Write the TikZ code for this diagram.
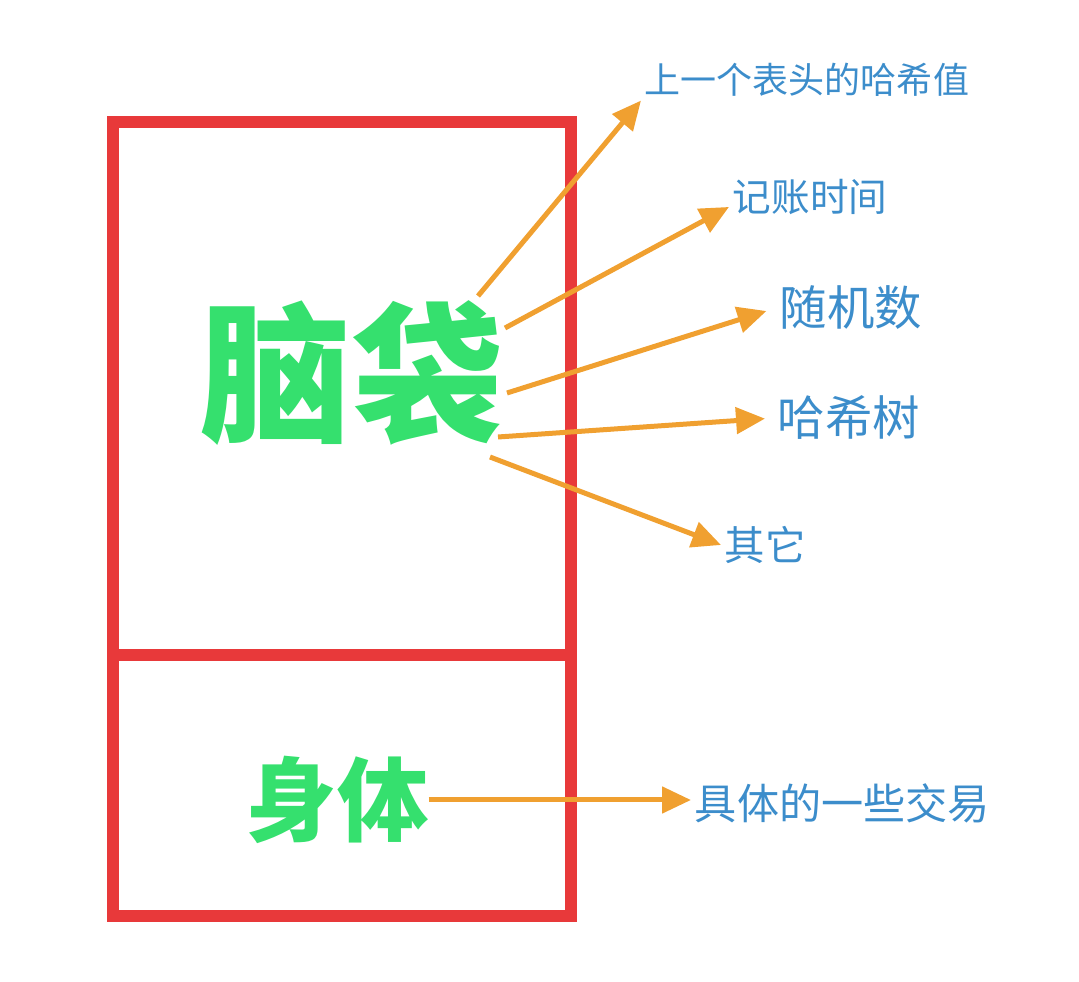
\documentclass[tikz,border=0pt]{standalone}
\usepackage{fontspec}
\newfontfamily\cjk{Noto Sans CJK SC}
\usetikzlibrary{arrows.meta}
\usepackage{xcolor}
\definecolor{boxred}{HTML}{E8393A}
\definecolor{wordgreen}{HTML}{35E06E}
\definecolor{fieldblue}{HTML}{3C8DCB}
\definecolor{arroworange}{HTML}{F0A030}

\tikzset{
  word/.style={font=\cjk\bfseries\fontsize{#1}{#1}\selectfont, text=wordgreen, inner sep=0pt},
  field/.style={font=\cjk\fontsize{#1}{#1}\selectfont, text=fieldblue, anchor=west, inner sep=2pt},
  pointer/.style={draw=arroworange, line width=0.1cm, -{Triangle[length=0.58cm,width=0.52cm]}}
}

\begin{document}
\begin{tikzpicture}[x=0.02cm,y=-0.02cm]
        \useasboundingbox (0,0) rectangle (1079,982);

        % Draw the block: head part on top, body part below
        \draw[boxred, line width=0.24cm] (113,122) rectangle (571,916);
        \draw[boxred, line width=0.24cm] (113,655) -- (571,655);

        % Big green words inside the block
        \node[word=86pt] (head) at (352,373) {脑袋};
        \node[word=52pt] (body) at (337,800) {身体};

        % Fields of the head, in blue
        \node[field=20.5pt] (prev) at (641,80) {上一个表头的哈希值};
        \node[field=22pt] (time) at (729,197) {记账时间};
        \node[field=27pt] (nonce) at (776,308) {随机数};
        \node[field=27pt] (tree) at (774,418) {哈希树};
        \node[field=23pt] (other) at (721,545) {其它};
        \node[field=24pt] (deals) at (691,803) {具体的一些交易};

        % Start points of the arrows on the head word
        \coordinate (s1) at (478,296);
        \coordinate (s2) at (505,328);
        \coordinate (s3) at (507,393);
        \coordinate (s4) at (498,437);
        \coordinate (s5) at (490,457);

        % Draw orange arrows from the words to the fields
        \foreach \s/\t/\gap in {s1/prev.south west/0, s2/time.187/0, s3/nonce.west/0.2, s4/tree.west/0.18, s5/other.west/0} {
            \draw[pointer, shorten >=\gap cm] (\s) -- (\t);
        }
        \draw[pointer] (body.east) -- (body.east -| deals.west);

\end{tikzpicture}
\end{document}
